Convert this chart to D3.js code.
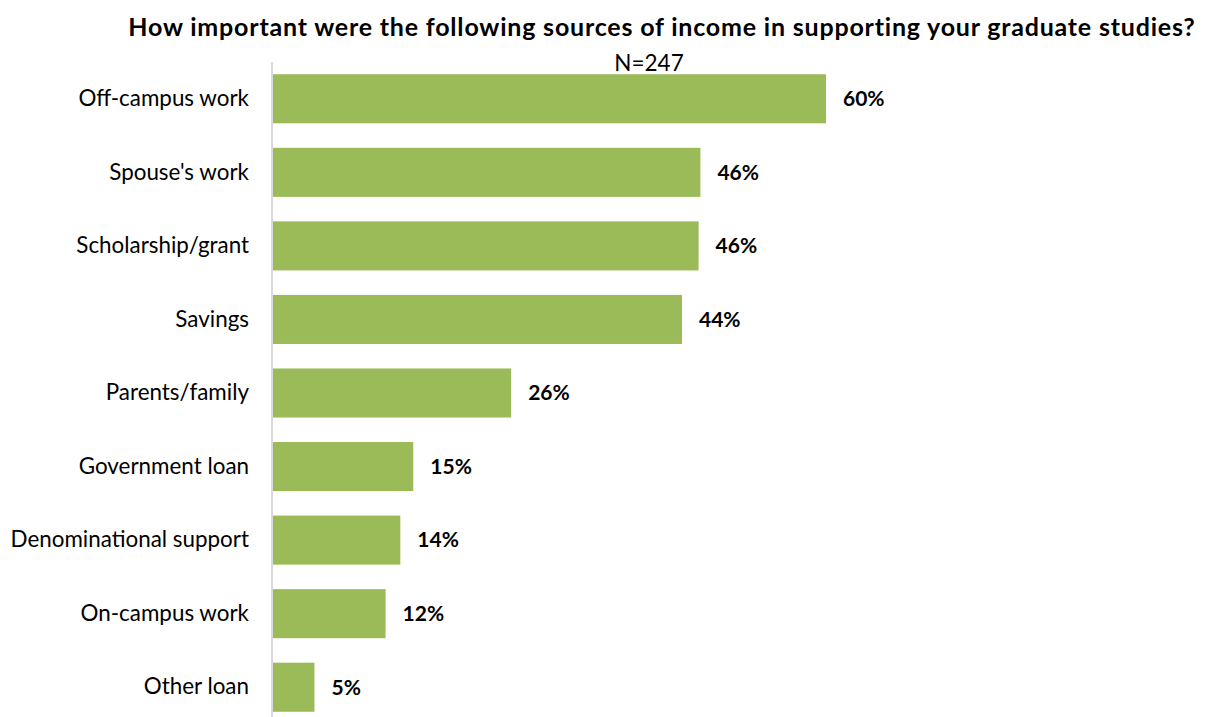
<!DOCTYPE html>
<html>
<head>
<meta charset="utf-8">
<title>Sources of income</title>
<style>
  body { margin: 0; background: #fff; }
  svg text { font-family: Lato, "Open Sans", sans-serif; fill: #000; }
  .cat { font-size: 22.4px; }
  .val { font-size: 21px; font-weight: bold; }
  .title { font-size: 25px; font-weight: bold; letter-spacing: 0.8px; }
  .note { font-size: 22.5px; }
</style>
</head>
<body>
<svg width="1208" height="717"></svg>
<script src="https://cdn.jsdelivr.net/npm/d3@7"></script>
<script>
var categories = ["Off-campus work", "Spouse's work", "Scholarship/grant", "Savings",
  "Parents/family", "Government loan", "Denominational support", "On-campus work", "Other loan"];
var values = [60, 46.4, 46.2, 44.4, 25.9, 15.3, 13.9, 12.3, 4.6];
var titleText = "How important were the following sources of income in supporting your graduate studies?";
var noteText = "N=247";

var svg = d3.select("svg"),
    x0 = 272;

var x = d3.scaleLinear().domain([0, 60]).range([x0, 826]);
var y = d3.scaleBand().domain(categories).range([62, 724]).paddingInner(0.333).paddingOuter(0.1665);

svg.append("text")
    .attr("class", "title")
    .attr("x", 662)
    .attr("y", 36)
    .attr("text-anchor", "middle")
    .text(titleText);

svg.append("text")
    .attr("class", "note")
    .attr("x", 649)
    .attr("y", 71)
    .attr("text-anchor", "middle")
    .text(noteText);

svg.selectAll(".bar")
    .data(values)
  .enter().append("rect")
    .attr("class", "bar")
    .attr("x", x(0))
    .attr("y", function(d, i) { return y(categories[i]); })
    .attr("width", function(d) { return x(d) - x(0); })
    .attr("height", y.bandwidth())
    .attr("fill", "#9bbb59");

svg.selectAll(".val")
    .data(values)
  .enter().append("text")
    .attr("class", "val")
    .attr("x", function(d) { return x(d) + 17; })
    .attr("y", function(d, i) { return y(categories[i]) + y.bandwidth() / 2; })
    .attr("dy", "0.35em")
    .text(function(d) { return Math.round(d) + "%"; });

// axis line + category labels
var yAxis = d3.axisLeft(y).tickSize(0).tickPadding(23);
var ga = svg.append("g")
    .attr("transform", "translate(" + x0 + ",0)")
    .call(yAxis);
ga.select(".domain").attr("stroke", "#d9d9d9").attr("stroke-width", 2).attr("d", "M0,62V724");
ga.selectAll("text").attr("class", "cat").attr("font-family", null).attr("font-size", null);
</script>
</body>
</html>
